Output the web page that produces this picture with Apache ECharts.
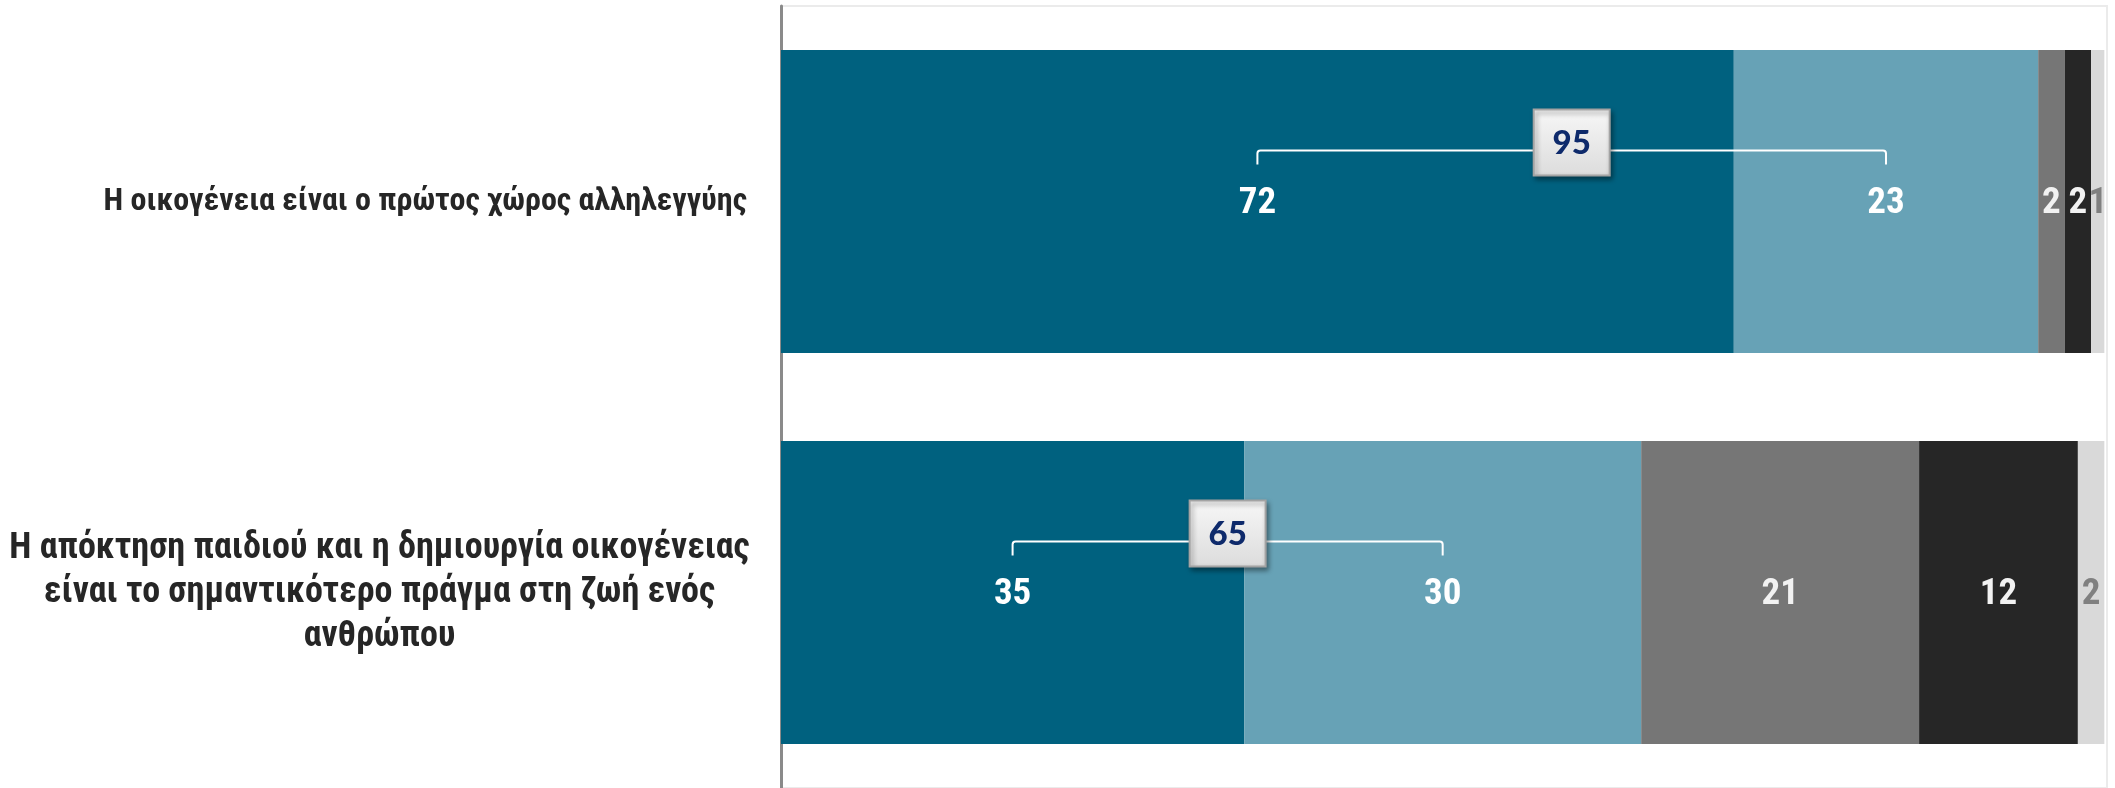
<!DOCTYPE html>
<html>
<head>
<meta charset="utf-8">
<script src="https://cdn.jsdelivr.net/npm/echarts@6/dist/echarts.min.js"></script>
<style>
html,body{margin:0;padding:0;background:#fff;}
#chart{width:2115px;height:788px;}
</style>
</head>
<body>
<div id="chart"></div>
<script>
// ---- data ----
const categories = [
  'Η οικογένεια είναι ο πρώτος χώρος αλληλεγγύης',
  'Η απόκτηση παιδιού και η δημιουργία οικογένειας\nείναι το σημαντικότερο πράγμα στη ζωή ενός\nανθρώπου'
];
const seriesNames = ['Συμφωνώ απόλυτα', 'Μάλλον συμφωνώ', 'Μάλλον διαφωνώ', 'Διαφωνώ απόλυτα', 'ΔΓ/ΔΑ'];
const valStronglyAgree = [72, 35];
const valAgree = [23, 30];
const valDisagree = [2, 21];
const valStronglyDisagree = [2, 12];
const valNoAnswer = [1, 2];
const netAgree = [95, 65];

// ---- styles ----
const colors = ['#00617F', '#67A2B6', '#767676', '#262626', '#D9D9D9'];
const labelColors = ['#FFFFFF', '#FFFFFF', '#F2F2F2', '#F2F2F2', '#808080'];
const narrow = "'Liberation Sans Narrow', 'Arial Narrow', 'Roboto Condensed', 'DejaVu Sans Condensed', sans-serif";

const allValues = [valStronglyAgree, valAgree, valDisagree, valStronglyDisagree, valNoAnswer];

const barSeries = allValues.map((vals, i) => ({
  name: seriesNames[i],
  type: 'bar',
  stack: 'total',
  barWidth: 303,
  data: vals,
  itemStyle: { color: colors[i] },
  label: {
    show: true,
    position: 'inside',
    formatter: '{c}',
    color: labelColors[i],
    fontFamily: narrow,
    fontWeight: 'bold',
    fontSize: 37,
    offset: [0, 2]
  },
  emphasis: { disabled: true },
  silent: true
}));

const bracketData = categories.map((c, i) => [i, valStronglyAgree[i], valAgree[i], netAgree[i]]);

const bracketSeries = {
  type: 'custom',
  silent: true,
  z: 10,
  encode: { x: [1, 2], y: 0 },
  data: bracketData,
  renderItem: function (params, api) {
    const cat = api.value(0);
    const a = api.value(1), b = api.value(2), net = api.value(3);
    const p1 = api.coord([a / 2, cat]);
    const p2 = api.coord([a + b / 2, cat]);
    const x1 = p1[0], x2 = p2[0];
    const y = p1[1] - 51;
    const cx = (x1 + x2) / 2;
    const bw = 76, bh = 66;
    const by = y - 8;
    const path = 'M' + x1 + ' ' + (y + 14) + ' L' + x1 + ' ' + (y + 3) +
      ' Q' + x1 + ' ' + y + ' ' + (x1 + 3) + ' ' + y +
      ' L' + (x2 - 3) + ' ' + y +
      ' Q' + x2 + ' ' + y + ' ' + x2 + ' ' + (y + 3) +
      ' L' + x2 + ' ' + (y + 14);
    return {
      type: 'group',
      children: [
        {
          type: 'path',
          shape: { pathData: path },
          style: { stroke: '#FFFFFF', lineWidth: 2, fill: null }
        },
        {
          type: 'rect',
          shape: { x: cx - bw / 2, y: by - bh / 2, width: bw, height: bh },
          style: {
            fill: new echarts.graphic.LinearGradient(0, 0, 0, 1, [
              { offset: 0, color: '#F7F7F7' },
              { offset: 1, color: '#DCDCDC' }
            ]),
            stroke: '#A3A3A3',
            lineWidth: 2,
            shadowBlur: 5,
            shadowOffsetX: 2,
            shadowOffsetY: 3,
            shadowColor: 'rgba(0,0,0,0.4)'
          }
        },
        {
          type: 'text',
          x: cx,
          y: by + 1,
          style: {
            text: String(net),
            fill: '#0E2A6B',
            font: '900 33px Lato, "Open Sans", sans-serif',
            align: 'center',
            verticalAlign: 'middle'
          }
        }
      ]
    };
  }
};

const chart = echarts.init(document.getElementById('chart'), null, { renderer: 'canvas' });
chart.setOption({
  animation: false,
  backgroundColor: '#FFFFFF',
  grid: {
    left: 781,
    right: 8,
    top: 6,
    height: 786,
    show: true,
    borderColor: '#EBEBEB',
    borderWidth: 2,
    backgroundColor: 'transparent'
  },
  xAxis: {
    type: 'value',
    min: 0,
    max: 100.2,
    show: false
  },
  yAxis: {
    type: 'category',
    inverse: true,
    data: categories.map((c, i) => i === 1
      ? { value: c, textStyle: { align: 'center', padding: [0, 735, 0, 0] } }
      : { value: c, textStyle: { fontSize: 32 } }),
    axisLine: { show: true, lineStyle: { color: '#8A8A8A', width: 3 } },
    axisTick: { show: false },
    splitLine: { show: false },
    axisLabel: {
      margin: 34,
      color: '#262626',
      fontFamily: narrow,
      fontWeight: 'bold',
      fontSize: 36,
      lineHeight: 44
    }
  },
  series: barSeries.concat([bracketSeries])
});
</script>
</body>
</html>
